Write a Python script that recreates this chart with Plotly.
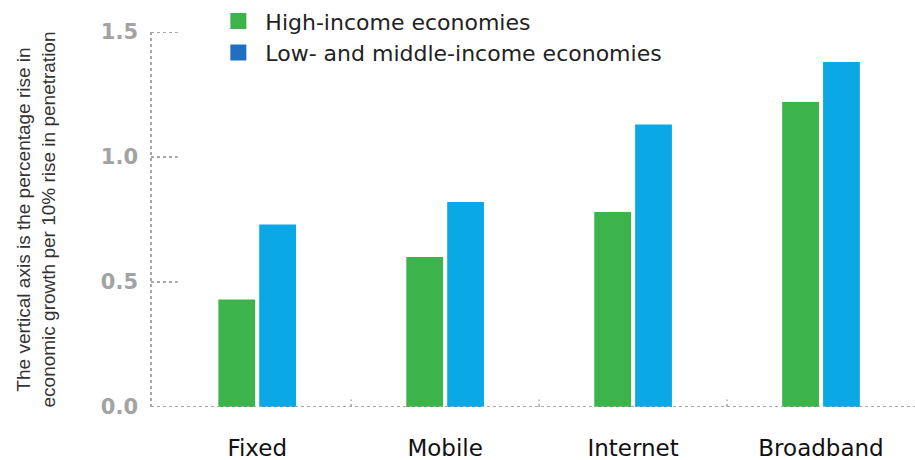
import plotly.graph_objects as go

categories = ["Fixed", "Mobile", "Internet", "Broadband"]
high_income = [0.43, 0.60, 0.78, 1.22]
low_middle_income = [0.73, 0.82, 1.13, 1.38]
series_names = ["High-income economies", "Low- and middle-income economies"]
y_ticks = [0.0, 0.5, 1.0, 1.5]
y_tick_labels = ["0.0", "0.5", "1.0", "1.5"]

GREEN = "#3cb44b"
BLUE = "#0ba8e6"
LEGEND_BLUE = "#1f6fc2"
DOT = "#a8a8a8"

fig = go.Figure()
fig.add_trace(go.Bar(x=categories, y=high_income, name=series_names[0],
                     marker=dict(color=GREEN, line=dict(width=0)), showlegend=False))
fig.add_trace(go.Bar(x=categories, y=low_middle_income, name=series_names[1],
                     marker=dict(color=BLUE, line=dict(width=0)), showlegend=False))
# legend entries
fig.add_trace(go.Scatter(x=[None], y=[None], mode="markers", name=series_names[0],
                         marker=dict(symbol="square", size=16, color=GREEN)))
fig.add_trace(go.Scatter(x=[None], y=[None], mode="markers", name=series_names[1],
                         marker=dict(symbol="square", size=16, color=LEGEND_BLUE)))

shapes = []
shapes.append(dict(type="line", xref="paper", yref="y", x0=0, x1=0, y0=y_ticks[0], y1=y_ticks[-1],
                   line=dict(color=DOT, width=2, dash="dot")))
shapes.append(dict(type="line", xref="paper", yref="y", x0=0, x1=1, y0=0, y1=0,
                   line=dict(color=DOT, width=2, dash="dot")))
for t in y_ticks:
    shapes.append(dict(type="line", xref="paper", yref="y", x0=0, x1=0.035, y0=t, y1=t,
                       line=dict(color=DOT, width=2, dash="dot")))
for i in range(len(categories) - 1):
    shapes.append(dict(type="line", xref="x", yref="y", x0=i + 0.5, x1=i + 0.5, y0=0, y1=0.03,
                       line=dict(color=DOT, width=1.5, dash="dot")))

fig.update_layout(
    width=915, height=460,
    margin=dict(l=151, r=0, t=32, b=53),
    paper_bgcolor="white", plot_bgcolor="white",
    barmode="group", bargap=0.565, bargroupgap=0.1,
    shapes=shapes,
    legend=dict(x=0.079, y=1.085, xanchor="left", yanchor="top",
                font=dict(family="DejaVu Sans", size=22, color="#222"),
                itemwidth=44,
                bgcolor="rgba(0,0,0,0)", tracegroupgap=0),
    xaxis=dict(range=[-0.565, 3.5], showgrid=False, showline=False, zeroline=False,
               ticks="", tickangle=0, automargin=False,
               tickfont=dict(family="DejaVu Sans", size=23, color="#111"),
               ticklabelstandoff=25),
    yaxis=dict(range=[0, 1.5], tickvals=y_ticks, ticktext=y_tick_labels,
               showgrid=False, showline=False, zeroline=False, ticks="", automargin=False,
               tickfont=dict(family="DejaVu Sans", size=21, color="#a3a3a3", weight="bold"),
               ticklabelstandoff=12,
               title=dict(text="The vertical axis is the percentage rise in<br>economic growth per 10% rise in penetration",
                          font=dict(family="Liberation Sans", size=19, color="#333"),
                          standoff=40)),
)

fig.write_html("out.html")
